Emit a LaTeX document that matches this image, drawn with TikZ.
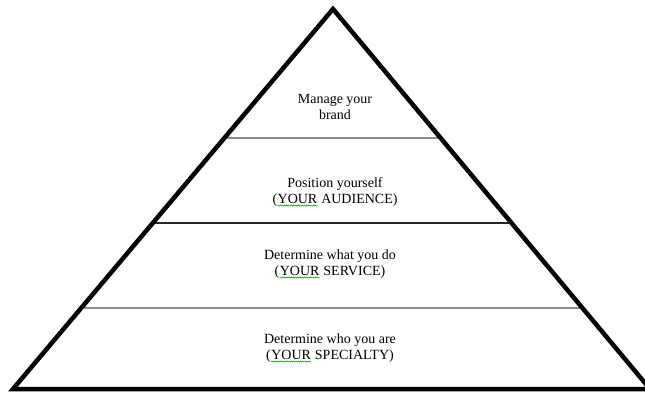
\documentclass[tikz,border=0pt]{standalone}
\usepackage{fontspec}
\setmainfont{Liberation Serif}
\usetikzlibrary{calc,decorations.pathmorphing}

% wavy spell-check mark under a word
\newcommand\spellmark[1]{\tikz[baseline=(w.base)]{\node[inner sep=0pt] (w) {#1};
  \draw[green!60!black,line width=0.5pt,decorate,decoration={snake,amplitude=0.6pt,segment length=2.2pt}]
    ([yshift=-1.8pt]w.south west) -- ([yshift=-1.8pt]w.south east);}}

\begin{document}
\begin{tikzpicture}[x=1pt,y=-1pt]
    \tikzstyle{level}=[align=center, font=\fontsize{14}{16}\selectfont, inner sep=0pt]
    \tikzstyle{divider}=[line width=1.3pt]
    \tikzstyle{outline}=[line width=4.5pt, line join=miter]
    \useasboundingbox[fill=white] (0,0) rectangle (645,394);
    \coordinate (apex) at (333,9);
    \coordinate (bl) at (13,389);
    \coordinate (br) at (650,389);
    % dividing lines between the levels
    \coordinate (d1l) at ($(apex)!{129/380}!(bl)$);
    \coordinate (d1r) at ($(apex)!{129/380}!(br)$);
    \coordinate (d2l) at ($(apex)!{214/380}!(bl)$);
    \coordinate (d2r) at ($(apex)!{214/380}!(br)$);
    \coordinate (d3l) at ($(apex)!{299/380}!(bl)$);
    \coordinate (d3r) at ($(apex)!{299/380}!(br)$);
    \draw[divider,draw=black!45] (d1l) -- (d1r);
    \draw[divider,draw=black!85] (d2l) -- (d2r);
    \draw[divider,draw=black!45] (d3l) -- (d3r);
    \draw[outline] (bl) -- (apex) -- (br) -- cycle;
    \node[level] (brand) at (335,107) {Manage your\\brand};
    \node[level] (position) at (335,192) {Position yourself\\(\spellmark{YOUR} AUDIENCE)};
    \node[level] (service) at (330,264) {Determine what you do\\(\spellmark{YOUR} SERVICE)};
    \node[level] (specialty) at (330,348) {Determine who you are\\(\spellmark{YOUR} SPECIALTY)};
\end{tikzpicture}
\end{document}
